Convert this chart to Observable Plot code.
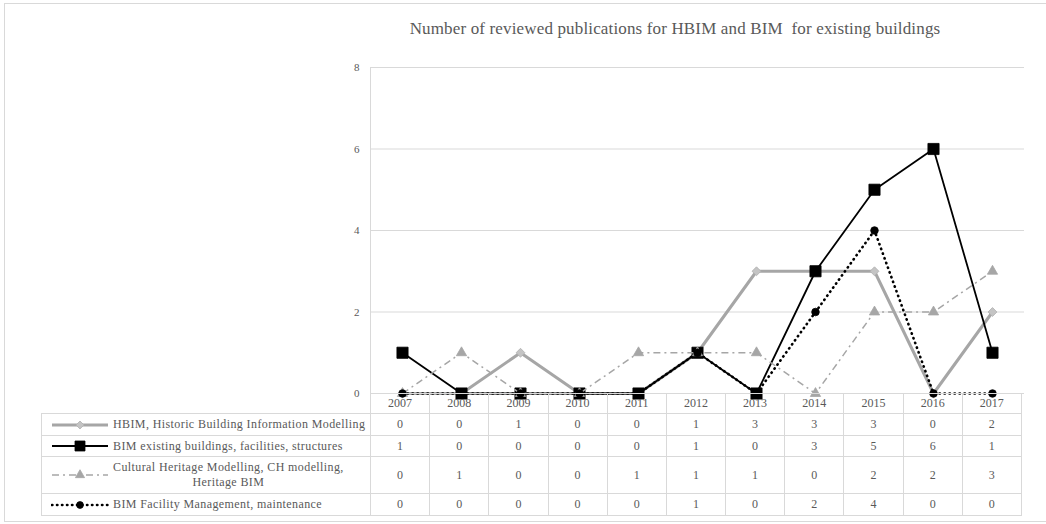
<!DOCTYPE html>
<html><head><meta charset="utf-8">
<script src="https://cdn.jsdelivr.net/npm/d3@7"></script>
<script src="https://cdn.jsdelivr.net/npm/@observablehq/plot@0.6"></script>
<style>
html,body{margin:0;padding:0;background:#fff;}
#wrap{position:relative;width:1046px;height:524px;overflow:hidden;font-family:"Liberation Serif","Times New Roman",serif;color:#595959;}
#frame{position:absolute;left:4px;top:3px;width:1100px;height:519px;border:1.5px solid #d9d9d9;box-sizing:border-box;}
#title{position:absolute;top:19px;left:325px;width:700px;text-align:center;font-size:17px;letter-spacing:0.15px;white-space:pre;}
#chart{position:absolute;left:0;top:0;}
#tbl{position:absolute;left:41px;top:393px;border-collapse:collapse;table-layout:fixed;width:980px;font-size:12px;color:#595959;}
#tbl td{border:1px solid #d9d9d9;text-align:center;padding:0;vertical-align:middle;}
#tbl td.blank{border-left:none;border-top:none;border-bottom:1px solid #d9d9d9;}
#tbl td.lab{text-align:left;padding-left:9px;white-space:nowrap;}
#tbl td.lab svg{display:inline-block;vertical-align:middle;margin-right:4px;}
#tbl td.lab .txt{display:inline-block;vertical-align:middle;text-align:center;line-height:15px;letter-spacing:0.4px;}
</style></head>
<body>
<div id="wrap">
  <div id="frame"></div>
  <div id="title"></div>
  <div id="chart"></div>
  <table id="tbl"></table>
</div>
<script>
// ---- data ----
const titleText = "Number of reviewed publications for HBIM and BIM  for existing buildings";
const years = [2007, 2008, 2009, 2010, 2011, 2012, 2013, 2014, 2015, 2016, 2017];
const yTicks = [0, 2, 4, 6, 8];
const labels = [
  ["HBIM, Historic Building Information Modelling"],
  ["BIM existing buildings, facilities, structures"],
  ["Cultural Heritage Modelling, CH modelling,", "Heritage BIM"],
  ["BIM Facility Management, maintenance"]
];
const hbim = [0, 0, 1, 0, 0, 1, 3, 3, 3, 0, 2];
const bim  = [1, 0, 0, 0, 0, 1, 0, 3, 5, 6, 1];
const ch   = [0, 1, 0, 0, 1, 1, 1, 0, 2, 2, 3];
const fm   = [0, 0, 0, 0, 0, 1, 0, 2, 4, 0, 0];

// ---- styles ----
const styles = [
  {stroke:"#a6a6a6", width:3, dash:null, cap:"butt", symbol:"diamond2", d3sym:d3.symbolDiamond2, r:4, fill:"#c4c4c4", mstroke:"#b0b0b0"},
  {stroke:"#000000", width:1.8, dash:null, cap:"butt", symbol:"square", d3sym:d3.symbolSquare, r:6.3, fill:"#000", mstroke:"#000"},
  {stroke:"#a6a6a6", width:1.5, dash:"7,4,2,4", cap:"butt", symbol:"triangle", d3sym:d3.symbolTriangle, r:3.8, fill:"#a6a6a6", mstroke:"#a6a6a6"},
  {stroke:"#000000", width:2.6, dash:"0.4,4.6", cap:"round", symbol:"circle", d3sym:d3.symbolCircle, r:3.8, fill:"#000", mstroke:"#000"}
];
const seriesValues = [hbim, bim, ch, fm];

document.getElementById("title").textContent = titleText;

const marks = [
  Plot.ruleY(yTicks, {stroke:"#d9d9d9", strokeWidth:1}),
  Plot.frame({anchor:"left", stroke:"#d9d9d9"})
];
seriesValues.forEach((vals, k) => {
  const st = styles[k];
  const data = years.map((yr, i) => ({year: yr, value: vals[i]}));
  marks.push(Plot.line(data, {x:"year", y:"value", stroke:st.stroke, strokeWidth:st.width,
    strokeDasharray:st.dash, strokeLinejoin:"round", strokeLinecap:st.cap}));
  marks.push(Plot.dot(data, {x:"year", y:"value", symbol:st.symbol, r:st.r, fill:st.fill, stroke:st.mstroke, strokeWidth:0.8}));
});

const chart = Plot.plot({
  width:1046, height:400,
  marginLeft:370, marginRight:22, marginTop:67, marginBottom:7,
  style:{background:"transparent", fontFamily:'"Liberation Serif","Times New Roman",serif', fontSize:"11px", color:"#595959", overflow:"visible"},
  x:{type:"point", domain:years, padding:0.5, axis:null},
  y:{domain:[0,8], ticks:yTicks, tickSize:0, tickPadding:11, label:null},
  marks
});
document.getElementById("chart").appendChild(chart);

// ---- data table ----
const tbl = d3.select("#tbl");
const cg = tbl.append("colgroup");
cg.append("col").style("width","329px");
years.forEach(() => cg.append("col").style("width", (651/11)+"px"));
const head = tbl.append("tr").style("height","20px");
head.append("td").attr("class","blank");
years.forEach(yr => head.append("td").text(yr));
const rowHeights = [22, 21, 37, 22];
seriesValues.forEach((vals, k) => {
  const st = styles[k];
  const tr = tbl.append("tr").style("height", rowHeights[k]+"px");
  const lab = tr.append("td").attr("class","lab");
  const svg = lab.append("svg").attr("width",58).attr("height",14);
  svg.append("line").attr("x1",1).attr("x2",57).attr("y1",7).attr("y2",7)
    .attr("stroke",st.stroke).attr("stroke-width",st.width)
    .attr("stroke-dasharray",st.dash).attr("stroke-linecap",st.cap);
  svg.append("path").attr("transform","translate(29,7)")
    .attr("d", d3.symbol(st.d3sym, Math.PI*st.r*st.r*0.8)())
    .attr("fill",st.fill).attr("stroke",st.mstroke).attr("stroke-width",0.8);
  const txt = lab.append("span").attr("class","txt");
  labels[k].forEach((line, j) => { if (j) txt.append("br"); txt.append("span").text(line); });
  vals.forEach(v => tr.append("td").text(v));
});
</script>
</body></html>
